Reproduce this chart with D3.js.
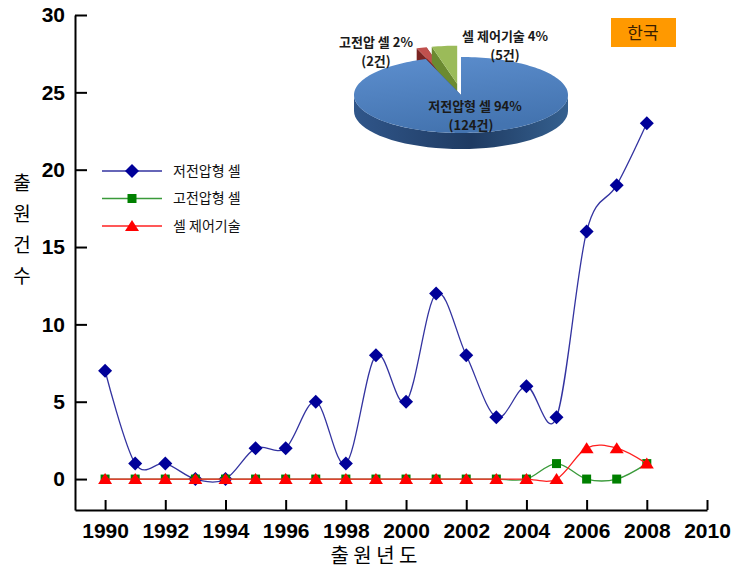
<!DOCTYPE html>
<html>
<head>
<meta charset="utf-8">
<script src="https://cdn.jsdelivr.net/npm/d3@7"></script>
<style>
body { margin: 0; background: #fff; }
</style>
</head>
<body>
<script>
var width = 737
var height = 572

var years = [1990, 1991, 1992, 1993, 1994, 1995, 1996, 1997, 1998, 1999, 2000, 2001, 2002, 2003, 2004, 2005, 2006, 2007, 2008]
var lowVoltage = [7, 1, 1, 0, 0, 2, 2, 5, 1, 8, 5, 12, 8, 4, 6, 4, 16, 19, 23]
var highVoltage = [0, 0, 0, 0, 0, 0, 0, 0, 0, 0, 0, 0, 0, 0, 0, 1, 0, 0, 1]
var cellControl = [0, 0, 0, 0, 0, 0, 0, 0, 0, 0, 0, 0, 0, 0, 0, 0, 2, 2, 1]
var seriesNames = ['저전압형 셀', '고전압형 셀', '셀 제어기술']

var pieValues = [124, 2, 5]
var pieLabels = [['저전압형 셀 94%', '(124건)'], ['고전압 셀 2%', '(2건)'], ['셀 제어기술 4%', '(5건)']]

var xTicks = [1990, 1992, 1994, 1996, 1998, 2000, 2002, 2004, 2006, 2008, 2010]
var yTicks = [0, 5, 10, 15, 20, 25, 30]

var svg = d3.select('body').append('svg').attr('width', width).attr('height', height)

var x = d3.scaleLinear().domain([1989, 2010]).range([75, 707])
var y = d3.scaleLinear().domain([-2, 30]).range([510, 15])

// axes, ticks point inward
var yAxis = svg.append('g')
    .attr('transform', 'translate(75,0)')
    .call(d3.axisLeft(y).tickValues(yTicks).tickSize(-12).tickSizeOuter(0).tickPadding(10))
var xAxis = svg.append('g')
    .attr('transform', 'translate(0,510)')
    .call(d3.axisBottom(x).tickValues(xTicks).tickFormat(d3.format('d')).tickSize(-10).tickSizeOuter(0).tickPadding(13))

svg.selectAll('.domain, .tick line').attr('stroke', '#000').attr('stroke-width', 2)
svg.selectAll('.tick text')
    .attr('font-family', '"Liberation Sans", Arial, sans-serif')
    .attr('font-weight', 'bold')
    .attr('font-size', 21)
    .attr('fill', '#000')

// axis titles
var yTitle = ['출', '원', '건', '수']
svg.append('g').selectAll('text')
    .data(yTitle)
    .enter()
    .append('text')
    .attr('x', 22)
    .attr('y', function (d, i) { return 183 + i * 31 })
    .attr('dy', '0.35em')
    .attr('text-anchor', 'middle')
    .attr('font-family', '"Noto Sans CJK KR", sans-serif')
    .attr('font-size', 19)
    .text(function (d) { return d })

svg.append('text')
    .attr('x', 374)
    .attr('y', 563)
    .attr('text-anchor', 'middle')
    .attr('font-family', '"Noto Sans CJK KR", sans-serif')
    .attr('font-size', 20)
    .text('출 원 년 도')

// marker shapes
function diamond(s) { return 'M0,' + (-s) + 'L' + s + ',0L0,' + s + 'L' + (-s) + ',0Z' }
function square(s) { return 'M' + (-s) + ',' + (-s) + 'h' + (2 * s) + 'v' + (2 * s) + 'h' + (-2 * s) + 'Z' }
function triangle(s) { return 'M0,' + (-s) + 'L' + (s + 1) + ',' + (s - 1) + 'L' + (-s - 1) + ',' + (s - 1) + 'Z' }

var series = [
    { name: seriesNames[0], values: lowVoltage, line: '#3333a0', fill: '#000099', shape: function () { return diamond(7) } },
    { name: seriesNames[1], values: highVoltage, line: '#3a9a3a', fill: '#008000', shape: function () { return square(4.5) } },
    { name: seriesNames[2], values: cellControl, line: '#ff2020', fill: '#ff0000', shape: function () { return triangle(6) } }
]

var line = d3.line()
    .x(function (d, i) { return x(years[i]) })
    .y(function (d) { return y(d) })
    .curve(d3.curveCatmullRom.alpha(0))

series.forEach(function (s) {
    var g = svg.append('g')
    g.append('path')
        .attr('d', line(s.values))
        .attr('fill', 'none')
        .attr('stroke', s.line)
        .attr('stroke-width', 1.3)
    g.selectAll('path.m')
        .data(s.values)
        .enter()
        .append('path')
        .attr('class', 'm')
        .attr('d', s.shape)
        .attr('transform', function (d, i) { return 'translate(' + x(years[i]) + ',' + y(d) + ')' })
        .attr('fill', s.fill)
})

// legend
var legend = svg.append('g').selectAll('g')
    .data(series)
    .enter()
    .append('g')
    .attr('transform', function (d, i) { return 'translate(0,' + (171 + i * 27.5) + ')' })
legend.append('line')
    .attr('x1', 102).attr('x2', 162)
    .attr('stroke', function (d) { return d.line })
    .attr('stroke-width', 1.3)
legend.append('path')
    .attr('d', function (d) { return d.shape() })
    .attr('transform', 'translate(132,0)')
    .attr('fill', function (d) { return d.fill })
legend.append('text')
    .attr('x', 173)
    .attr('dy', '0.35em')
    .attr('font-family', '"Noto Sans CJK KR", sans-serif')
    .attr('font-size', 14)
    .attr('fill', '#111')
    .text(function (d) { return d.name })

// 3D pie
var cx = 461, cy = 95, rx = 107, ry = 38, depth = 16, k = ry / rx
var pieTop = ['url(#blueTop)', '#c0504d', '#9bbb59']
var pieSide = ['url(#blueSide)', '#7a2422', '#6b8a30']

var defs = svg.append('defs')
var gt = defs.append('linearGradient').attr('id', 'blueTop').attr('x1', 0).attr('y1', 0).attr('x2', 0.3).attr('y2', 1)
gt.append('stop').attr('offset', '0%').attr('stop-color', '#5d8fcf')
gt.append('stop').attr('offset', '100%').attr('stop-color', '#4474b0')
var gs = defs.append('linearGradient').attr('id', 'blueSide').attr('x1', 0).attr('y1', 0).attr('x2', 1).attr('y2', 0)
gs.append('stop').attr('offset', '0%').attr('stop-color', '#30568a')
gs.append('stop').attr('offset', '55%').attr('stop-color', '#1f3b62')
gs.append('stop').attr('offset', '100%').attr('stop-color', '#35608f')

function pt(a, r, ox, oy, dz) {
    return [ox + r * Math.sin(a), oy - r * Math.cos(a) * k + (dz || 0)]
}

var arcs = d3.pie().sort(null).value(function (d) { return d })(pieValues)
var pieG = svg.append('g')

function drawSlice(d, i) {
    var mid = (d.startAngle + d.endAngle) / 2
    var ex = i === 0 ? 0 : 32
    var ox = cx + ex * Math.sin(mid)
    var oy = cy - ex * Math.cos(mid) * k
    var g = pieG.append('g')

    // radial faces
    ;[d.startAngle, d.endAngle].forEach(function (a) {
        var p = pt(a, rx, ox, oy)
        g.append('path')
            .attr('d', 'M' + ox + ',' + oy + 'L' + p[0] + ',' + p[1] + 'L' + p[0] + ',' + (p[1] + depth) + 'L' + ox + ',' + (oy + depth) + 'Z')
            .attr('fill', pieSide[i])
    })

    // outer wall, front half only
    var a0 = Math.max(d.startAngle, Math.PI / 2)
    var a1 = Math.min(d.endAngle, Math.PI * 1.5)
    if (a1 > a0) {
        var topPts = d3.range(0, 41).map(function (j) { return pt(a0 + (a1 - a0) * j / 40, rx, ox, oy) })
        var botPts = topPts.slice().reverse().map(function (p) { return [p[0], p[1] + depth] })
        g.append('path')
            .attr('d', 'M' + topPts.concat(botPts).join('L') + 'Z')
            .attr('fill', pieSide[i])
    }

    // top face
    var n = Math.max(4, Math.ceil((d.endAngle - d.startAngle) * 30))
    var rim = d3.range(0, n + 1).map(function (j) { return pt(d.startAngle + (d.endAngle - d.startAngle) * j / n, rx, ox, oy) })
    g.append('path')
        .attr('d', 'M' + ox + ',' + oy + 'L' + rim.join('L') + 'Z')
        .attr('fill', pieTop[i])
}

// back slices first, the big one on top
drawSlice(arcs[1], 1)
drawSlice(arcs[2], 2)
drawSlice(arcs[0], 0)

var labelPos = [[475, 106], [376, 42], [505, 36]]
pieLabels.forEach(function (lab, i) {
    lab.forEach(function (t, j) {
        svg.append('text')
            .attr('x', labelPos[i][0] - (j === 1 && i === 0 ? 4 : 0))
            .attr('y', labelPos[i][1] + j * 19)
            .attr('dy', '0.35em')
            .attr('text-anchor', 'middle')
            .attr('font-family', '"Noto Sans CJK KR", sans-serif')
            .attr('font-weight', 'bold')
            .attr('font-size', 13)
            .attr('fill', '#1a1a1a')
            .text(t)
    })
})

// country badge
svg.append('rect')
    .attr('x', 611).attr('y', 18).attr('width', 65).attr('height', 29)
    .attr('fill', '#ff9900')
svg.append('text')
    .attr('x', 643).attr('y', 33)
    .attr('dy', '0.35em')
    .attr('text-anchor', 'middle')
    .attr('font-family', '"Noto Sans CJK KR", sans-serif')
    .attr('font-size', 17)
    .attr('fill', '#3a2000')
    .text('한국')
</script>
</body>
</html>
